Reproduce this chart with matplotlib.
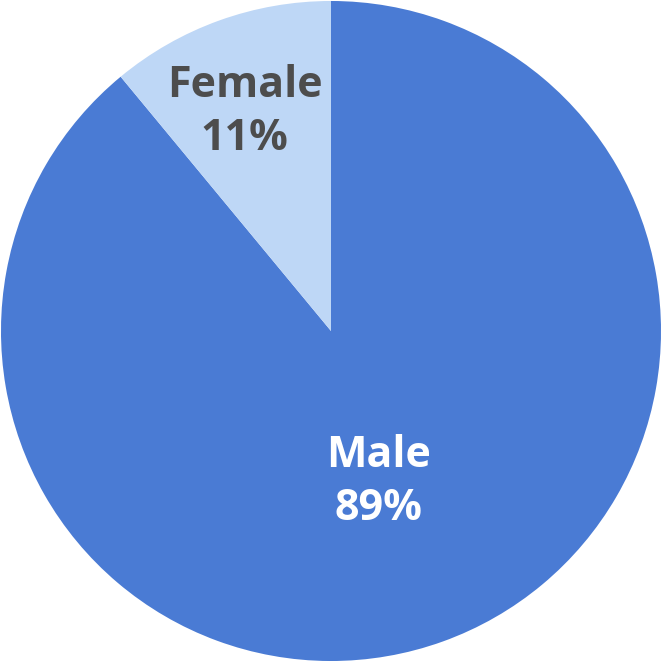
import numpy as np
import matplotlib
matplotlib.use("Agg")
import matplotlib.pyplot as plt

plt.rcParams['font.family'] = ['Open Sans', 'DejaVu Sans']

categories = ["Male", "Female"]
shares = [89, 11]
colors = ["#4A7BD4", "#BED7F6"]
text_colors = ["white", "#4D4D4D"]

# label placement: radial distance and small angular nudge (degrees)
label_dist = [0.468, 0.725]
label_nudge = [-1.7, 1.3]

fig = plt.figure(figsize=(6.62, 6.62), dpi=100)
ax = fig.add_axes([0, 0, 1, 1])

wedges, _ = ax.pie(shares, colors=colors, startangle=90, counterclock=False,
                   radius=1.0, wedgeprops=dict(linewidth=0))

for w, cat, val, tc, d, nd in zip(wedges, categories, shares, text_colors,
                                  label_dist, label_nudge):
    mid = np.deg2rad((w.theta1 + w.theta2) / 2 + nd)
    ax.annotate(f"{cat}\n{val}%", xy=(d * np.cos(mid), d * np.sin(mid)),
                xytext=(0, -3), textcoords='offset points',
                ha='center', va='center', color=tc, fontsize=31,
                fontweight='bold', linespacing=1.3)

ax.set_xlim(-1.003, 1.003)
ax.set_ylim(-1.003, 1.003)
ax.set_aspect('equal')
ax.axis('off')

fig.savefig("out.png", dpi=100)
